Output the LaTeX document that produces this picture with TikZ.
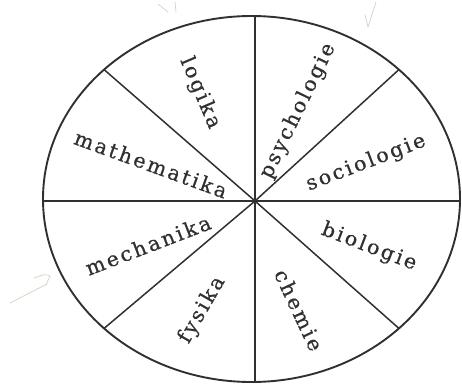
\documentclass[tikz,border=0pt]{standalone}
\usepackage{fontspec}
\usepackage{xcolor}
\usepackage{tikz}
\usetikzlibrary{shapes.geometric, positioning, calc}

\newfontfamily\fieldfont[LetterSpace=12, FakeBold=0.6]{DejaVu Serif}
\definecolor{ink}{RGB}{48,48,48}
\definecolor{pencil}{RGB}{212,208,192}

\tikzset{
  field/.style={font=\fieldfont\fontsize{20.5}{24}\selectfont, text=ink, inner sep=0pt},
  spoke/.style={ink, line width=1.5pt},
  pencilmark/.style={pencil, line width=0.7pt, line cap=round, line join=round}
}

\begin{document}
\begin{tikzpicture}[x=1pt, y=-1pt]
    \useasboundingbox (0,0) rectangle (462,383);

    % Rad der Wissenschaften
    \node[ellipse, draw=ink, line width=1.9pt, inner sep=0pt, outer sep=0pt,
          minimum width=417pt, minimum height=366pt] (wheel) at (251.5,199) {};
    \coordinate (hub) at (255,201);

    % Speichen
    \draw[spoke] (hub) -- (hub |- wheel.north);
    \draw[spoke] (hub) -- (hub |- wheel.south);
    \draw[spoke] (hub) -- (wheel.west |- hub);
    \draw[spoke] (hub) -- (wheel.east |- hub);
    \draw[spoke] (hub) -- (wheel.north east);
    \draw[spoke] (hub) -- (wheel.north west);
    \draw[spoke] (hub) -- (wheel.south east);
    \draw[spoke] (hub) -- (wheel.south west);

    % Facher
    \node[field, rotate=-67] (logika) at (200,93) {logika};
    \node[field, rotate=64] (psychologie) at (298,111) {psychologie};
    \node[field, rotate=-20] (mathematika) at (151,164) {mathematika};
    \node[field, rotate=21] (sociologie) at (366,163) {sociologie};
    \node[field, rotate=21] (mechanika) at (148,245) {mechanika};
    \node[field, rotate=-21] (biologie) at (369,247) {biologie};
    \node[field, rotate=60] (fysika) at (202,310) {fysika};
    \node[field, rotate=-65] (chemie) at (299,310) {chemie};

    % Bleistiftspuren
    \draw[pencilmark] (158,4) -- (168,12);
    \draw[pencilmark] (175,2) -- (176,12);
    \draw[pencilmark] (376,2) -- (368,27) -- (365,15);
    \draw[pencilmark] (10,303) -- (47,284);
    \draw[pencilmark] (34,278) .. controls (45,274) .. (50,276) -- (46,285);
\end{tikzpicture}
\end{document}
